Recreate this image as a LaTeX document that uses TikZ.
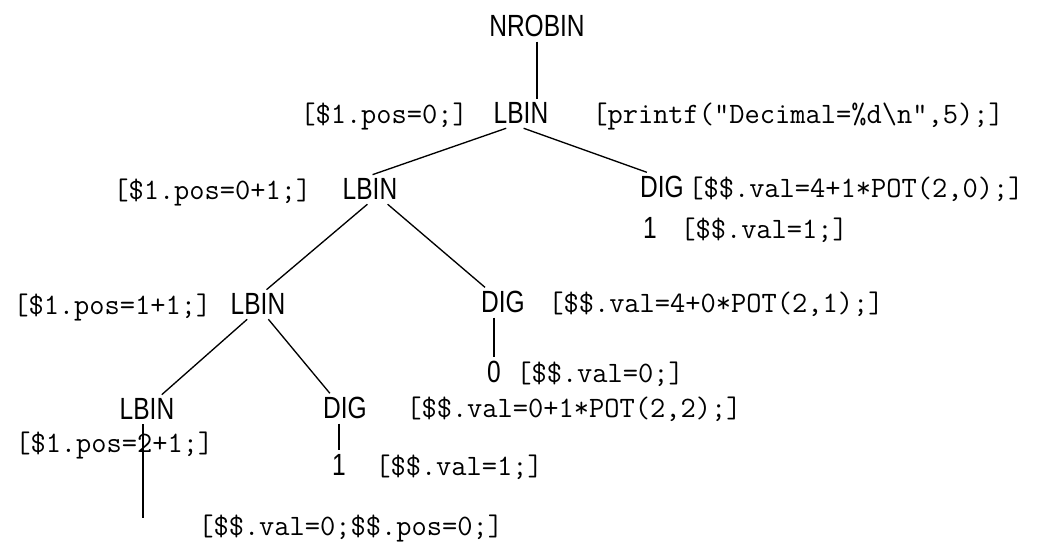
\documentclass[tikz,border=0pt]{standalone}
\usepackage{fontspec}
\newfontfamily\symfont[FakeStretch=0.8]{Liberation Sans}
\begin{document}
\begin{tikzpicture}[x=0.75pt,y=-0.75pt,
  sym/.style={anchor=base,inner sep=3pt,font=\symfont\fontsize{23}{26}\selectfont},
  act/.style={anchor=base west,inner sep=0pt,font=\ttfamily\fontsize{22.2}{25}\selectfont},
  edge/.style={line width=1pt}]
\useasboundingbox (0,0) rectangle (1063,548);

% grammar symbols of the annotated parse tree
\node[sym] (root) at (537,37)  {NROBIN};
\node[sym] (l2)   at (521,124) {LBIN};
\node[sym] (l3)   at (370,200) {LBIN};
\node[sym] (d3)   at (662,198) {DIG};
\node[sym] (one1) at (650,239) {1};
\node[sym] (l4)   at (258,315) {LBIN};
\node[sym] (d4)   at (503,313) {DIG};
\node[sym] (zero) at (494,383) {0};
\node[sym] (l5)   at (147,420) {LBIN};
\node[sym] (d5)   at (345,419) {DIG};
\node[sym] (one2) at (339,475) {1};
\coordinate (eps) at (143,518);

% semantic actions
\node[act] (a1)  at (300,124) {[\$1.pos=0;]};
\node[act] (a2)  at (592,124) {[printf("Decimal=\%d\textbackslash n",5);]};
\node[act] (a3)  at (113,200) {[\$1.pos=0+1;]};
\node[act] (a4)  at (688,198) {[\$\$.val=4+1*POT(2,0);]};
\node[act] (a5)  at (680,239) {[\$\$.val=1;]};
\node[act] (a6)  at (13,315)  {[\$1.pos=1+1;]};
\node[act] (a7)  at (548,313) {[\$\$.val=4+0*POT(2,1);]};
\node[act] (a8)  at (516,383) {[\$\$.val=0;]};
\node[act] (a9)  at (406,418) {[\$\$.val=0+1*POT(2,2);]};
\node[act] (a10) at (15,452)  {[\$1.pos=2+1;]};
\node[act] (a11) at (375,475) {[\$\$.val=1;]};
\node[act] (a12) at (198,535) {[\$\$.val=0;\$\$.pos=0;]};

% tree edges
\draw[edge] (root.south) -- (root.south |- l2.north);
\draw[edge] (l2.225) -- (l3.80);
\draw[edge] (l2.-80) -- (d3.135);
\draw[edge] (l3.260) -- (l4.60);
\draw[edge] (l3.-40) -- (d4.140);
\draw[edge] (l4.234) -- (l5.45);
\draw[edge] (l4.-55) -- (d5.135);
\draw[edge] (d4.south -| zero.north) -- (zero.north);
\draw[edge] (d5.south -| one2.north) -- (one2.north);
\draw[edge] (l5.south -| eps) -- (eps);
\end{tikzpicture}
\end{document}
